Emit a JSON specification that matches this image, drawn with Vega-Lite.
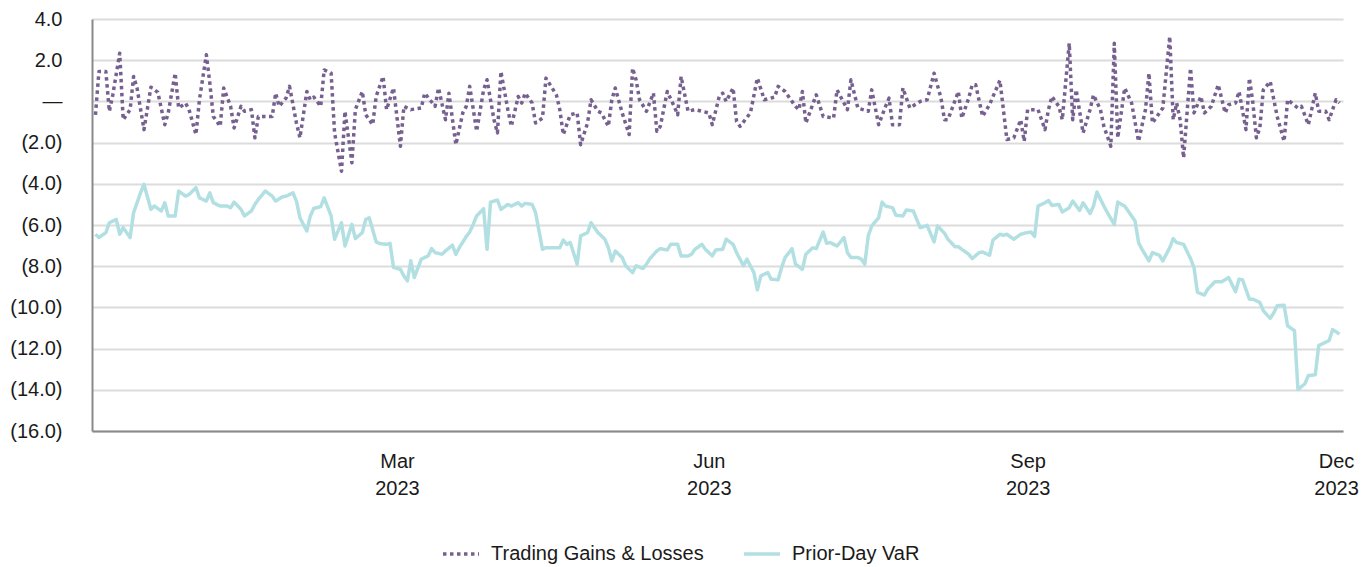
{
  "$schema": "https://vega.github.io/schema/vega-lite/v6.json",
  "width": 1251,
  "height": 412,
  "autosize": {"type": "none"},
  "padding": {"left": 92, "top": 19, "right": 29, "bottom": 136},
  "background": "white",
  "config": {
    "view": {"stroke": null},
    "font": "Liberation Sans"
  },
  "data": {
    "format": {"parse": {"d": "date:'%Y-%j'"}},
    "values": [
      {"s":"Trading Gains & Losses","d":"2023-003","v":-0.65},{"s":"Trading Gains & Losses","d":"2023-004","v":1.45},{"s":"Trading Gains & Losses","d":"2023-006","v":1.45},{"s":"Trading Gains & Losses","d":"2023-007","v":-0.48},{"s":"Trading Gains & Losses","d":"2023-008","v":0.32},{"s":"Trading Gains & Losses","d":"2023-010","v":2.34},{"s":"Trading Gains & Losses","d":"2023-011","v":-0.89},{"s":"Trading Gains & Losses","d":"2023-013","v":-0.4},{"s":"Trading Gains & Losses","d":"2023-014","v":1.21},{"s":"Trading Gains & Losses","d":"2023-015","v":0.65},{"s":"Trading Gains & Losses","d":"2023-017","v":-1.37},{"s":"Trading Gains & Losses","d":"2023-019","v":0.69},{"s":"Trading Gains & Losses","d":"2023-021","v":0.44},{"s":"Trading Gains & Losses","d":"2023-023","v":-1.13},{"s":"Trading Gains & Losses","d":"2023-024","v":-0.56},{"s":"Trading Gains & Losses","d":"2023-026","v":1.37},{"s":"Trading Gains & Losses","d":"2023-027","v":-0.32},{"s":"Trading Gains & Losses","d":"2023-029","v":-0.08},{"s":"Trading Gains & Losses","d":"2023-030","v":-0.4},{"s":"Trading Gains & Losses","d":"2023-032","v":-1.61},{"s":"Trading Gains & Losses","d":"2023-033","v":0.08},{"s":"Trading Gains & Losses","d":"2023-035","v":2.26},{"s":"Trading Gains & Losses","d":"2023-036","v":0.89},{"s":"Trading Gains & Losses","d":"2023-037","v":-0.73},{"s":"Trading Gains & Losses","d":"2023-039","v":-1.21},{"s":"Trading Gains & Losses","d":"2023-040","v":0.65},{"s":"Trading Gains & Losses","d":"2023-042","v":-0.24},{"s":"Trading Gains & Losses","d":"2023-043","v":-1.29},{"s":"Trading Gains & Losses","d":"2023-045","v":-0.24},{"s":"Trading Gains & Losses","d":"2023-046","v":-0.48},{"s":"Trading Gains & Losses","d":"2023-048","v":-0.4},{"s":"Trading Gains & Losses","d":"2023-049","v":-1.77},{"s":"Trading Gains & Losses","d":"2023-050","v":-0.73},{"s":"Trading Gains & Losses","d":"2023-052","v":-0.73},{"s":"Trading Gains & Losses","d":"2023-054","v":-0.73},{"s":"Trading Gains & Losses","d":"2023-055","v":0.4},{"s":"Trading Gains & Losses","d":"2023-056","v":-0.24},{"s":"Trading Gains & Losses","d":"2023-058","v":0.16},{"s":"Trading Gains & Losses","d":"2023-059","v":0.73},{"s":"Trading Gains & Losses","d":"2023-061","v":-1.05},{"s":"Trading Gains & Losses","d":"2023-062","v":-1.77},{"s":"Trading Gains & Losses","d":"2023-064","v":0.48},{"s":"Trading Gains & Losses","d":"2023-065","v":0.08},{"s":"Trading Gains & Losses","d":"2023-066","v":0.21},{"s":"Trading Gains & Losses","d":"2023-068","v":-0.24},{"s":"Trading Gains & Losses","d":"2023-069","v":1.53},{"s":"Trading Gains & Losses","d":"2023-071","v":1.37},{"s":"Trading Gains & Losses","d":"2023-072","v":-1.53},{"s":"Trading Gains & Losses","d":"2023-074","v":-3.39},{"s":"Trading Gains & Losses","d":"2023-075","v":-0.48},{"s":"Trading Gains & Losses","d":"2023-077","v":-2.98},{"s":"Trading Gains & Losses","d":"2023-078","v":-0.4},{"s":"Trading Gains & Losses","d":"2023-080","v":0.48},{"s":"Trading Gains & Losses","d":"2023-081","v":-0.65},{"s":"Trading Gains & Losses","d":"2023-083","v":-1.13},{"s":"Trading Gains & Losses","d":"2023-084","v":0.24},{"s":"Trading Gains & Losses","d":"2023-086","v":1.21},{"s":"Trading Gains & Losses","d":"2023-087","v":-0.4},{"s":"Trading Gains & Losses","d":"2023-089","v":0.65},{"s":"Trading Gains & Losses","d":"2023-091","v":-2.18},{"s":"Trading Gains & Losses","d":"2023-092","v":-0.24},{"s":"Trading Gains & Losses","d":"2023-094","v":-0.4},{"s":"Trading Gains & Losses","d":"2023-097","v":-0.32},{"s":"Trading Gains & Losses","d":"2023-098","v":0.4},{"s":"Trading Gains & Losses","d":"2023-101","v":-0.24},{"s":"Trading Gains & Losses","d":"2023-102","v":0.65},{"s":"Trading Gains & Losses","d":"2023-104","v":-0.89},{"s":"Trading Gains & Losses","d":"2023-105","v":0.4},{"s":"Trading Gains & Losses","d":"2023-107","v":-2.1},{"s":"Trading Gains & Losses","d":"2023-109","v":-0.56},{"s":"Trading Gains & Losses","d":"2023-110","v":-0.24},{"s":"Trading Gains & Losses","d":"2023-111","v":0.73},{"s":"Trading Gains & Losses","d":"2023-113","v":-1.45},{"s":"Trading Gains & Losses","d":"2023-115","v":0.56},{"s":"Trading Gains & Losses","d":"2023-116","v":1.05},{"s":"Trading Gains & Losses","d":"2023-118","v":-0.89},{"s":"Trading Gains & Losses","d":"2023-119","v":-1.53},{"s":"Trading Gains & Losses","d":"2023-120","v":1.45},{"s":"Trading Gains & Losses","d":"2023-122","v":-0.4},{"s":"Trading Gains & Losses","d":"2023-123","v":-1.21},{"s":"Trading Gains & Losses","d":"2023-125","v":0.24},{"s":"Trading Gains & Losses","d":"2023-126","v":-0.08},{"s":"Trading Gains & Losses","d":"2023-127","v":0.4},{"s":"Trading Gains & Losses","d":"2023-129","v":-0.08},{"s":"Trading Gains & Losses","d":"2023-130","v":-1.05},{"s":"Trading Gains & Losses","d":"2023-132","v":-0.81},{"s":"Trading Gains & Losses","d":"2023-133","v":1.13},{"s":"Trading Gains & Losses","d":"2023-136","v":0.32},{"s":"Trading Gains & Losses","d":"2023-137","v":-0.4},{"s":"Trading Gains & Losses","d":"2023-138","v":-1.61},{"s":"Trading Gains & Losses","d":"2023-140","v":-0.65},{"s":"Trading Gains & Losses","d":"2023-142","v":-0.56},{"s":"Trading Gains & Losses","d":"2023-143","v":-2.1},{"s":"Trading Gains & Losses","d":"2023-145","v":-1.05},{"s":"Trading Gains & Losses","d":"2023-146","v":0.08},{"s":"Trading Gains & Losses","d":"2023-148","v":-0.48},{"s":"Trading Gains & Losses","d":"2023-149","v":-0.56},{"s":"Trading Gains & Losses","d":"2023-151","v":-1.21},{"s":"Trading Gains & Losses","d":"2023-152","v":0.08},{"s":"Trading Gains & Losses","d":"2023-153","v":0.65},{"s":"Trading Gains & Losses","d":"2023-155","v":-0.56},{"s":"Trading Gains & Losses","d":"2023-157","v":-1.61},{"s":"Trading Gains & Losses","d":"2023-158","v":1.61},{"s":"Trading Gains & Losses","d":"2023-159","v":1.05},{"s":"Trading Gains & Losses","d":"2023-160","v":0.08},{"s":"Trading Gains & Losses","d":"2023-162","v":-0.48},{"s":"Trading Gains & Losses","d":"2023-164","v":0.4},{"s":"Trading Gains & Losses","d":"2023-165","v":-1.45},{"s":"Trading Gains & Losses","d":"2023-166","v":-1.21},{"s":"Trading Gains & Losses","d":"2023-168","v":0.48},{"s":"Trading Gains & Losses","d":"2023-170","v":-0.24},{"s":"Trading Gains & Losses","d":"2023-171","v":-0.65},{"s":"Trading Gains & Losses","d":"2023-172","v":1.21},{"s":"Trading Gains & Losses","d":"2023-174","v":-0.48},{"s":"Trading Gains & Losses","d":"2023-176","v":-0.4},{"s":"Trading Gains & Losses","d":"2023-180","v":-0.56},{"s":"Trading Gains & Losses","d":"2023-181","v":-1.13},{"s":"Trading Gains & Losses","d":"2023-183","v":0.24},{"s":"Trading Gains & Losses","d":"2023-184","v":0.4},{"s":"Trading Gains & Losses","d":"2023-185","v":0.0},{"s":"Trading Gains & Losses","d":"2023-187","v":0.65},{"s":"Trading Gains & Losses","d":"2023-188","v":-0.97},{"s":"Trading Gains & Losses","d":"2023-189","v":-1.21},{"s":"Trading Gains & Losses","d":"2023-192","v":-0.56},{"s":"Trading Gains & Losses","d":"2023-194","v":1.13},{"s":"Trading Gains & Losses","d":"2023-196","v":0.08},{"s":"Trading Gains & Losses","d":"2023-199","v":0.21},{"s":"Trading Gains & Losses","d":"2023-200","v":0.73},{"s":"Trading Gains & Losses","d":"2023-202","v":0.48},{"s":"Trading Gains & Losses","d":"2023-205","v":-0.24},{"s":"Trading Gains & Losses","d":"2023-206","v":-0.4},{"s":"Trading Gains & Losses","d":"2023-207","v":0.48},{"s":"Trading Gains & Losses","d":"2023-208","v":-1.05},{"s":"Trading Gains & Losses","d":"2023-211","v":0.32},{"s":"Trading Gains & Losses","d":"2023-213","v":-0.73},{"s":"Trading Gains & Losses","d":"2023-216","v":-0.81},{"s":"Trading Gains & Losses","d":"2023-217","v":0.56},{"s":"Trading Gains & Losses","d":"2023-220","v":-0.4},{"s":"Trading Gains & Losses","d":"2023-221","v":1.05},{"s":"Trading Gains & Losses","d":"2023-223","v":-0.32},{"s":"Trading Gains & Losses","d":"2023-226","v":-0.48},{"s":"Trading Gains & Losses","d":"2023-227","v":0.56},{"s":"Trading Gains & Losses","d":"2023-229","v":-1.13},{"s":"Trading Gains & Losses","d":"2023-231","v":-0.24},{"s":"Trading Gains & Losses","d":"2023-232","v":0.16},{"s":"Trading Gains & Losses","d":"2023-233","v":-1.13},{"s":"Trading Gains & Losses","d":"2023-235","v":-1.13},{"s":"Trading Gains & Losses","d":"2023-236","v":0.65},{"s":"Trading Gains & Losses","d":"2023-238","v":-0.32},{"s":"Trading Gains & Losses","d":"2023-241","v":0.0},{"s":"Trading Gains & Losses","d":"2023-243","v":0.08},{"s":"Trading Gains & Losses","d":"2023-245","v":1.37},{"s":"Trading Gains & Losses","d":"2023-247","v":0.16},{"s":"Trading Gains & Losses","d":"2023-248","v":-0.89},{"s":"Trading Gains & Losses","d":"2023-249","v":-0.89},{"s":"Trading Gains & Losses","d":"2023-252","v":0.48},{"s":"Trading Gains & Losses","d":"2023-253","v":-0.81},{"s":"Trading Gains & Losses","d":"2023-255","v":0.16},{"s":"Trading Gains & Losses","d":"2023-256","v":0.81},{"s":"Trading Gains & Losses","d":"2023-257","v":0.81},{"s":"Trading Gains & Losses","d":"2023-259","v":-0.73},{"s":"Trading Gains & Losses","d":"2023-261","v":-0.16},{"s":"Trading Gains & Losses","d":"2023-264","v":1.02},{"s":"Trading Gains & Losses","d":"2023-265","v":-0.4},{"s":"Trading Gains & Losses","d":"2023-266","v":-1.85},{"s":"Trading Gains & Losses","d":"2023-268","v":-1.77},{"s":"Trading Gains & Losses","d":"2023-270","v":-0.89},{"s":"Trading Gains & Losses","d":"2023-271","v":-1.94},{"s":"Trading Gains & Losses","d":"2023-272","v":-0.4},{"s":"Trading Gains & Losses","d":"2023-275","v":-0.4},{"s":"Trading Gains & Losses","d":"2023-277","v":-1.37},{"s":"Trading Gains & Losses","d":"2023-278","v":-0.4},{"s":"Trading Gains & Losses","d":"2023-279","v":0.24},{"s":"Trading Gains & Losses","d":"2023-281","v":-0.24},{"s":"Trading Gains & Losses","d":"2023-282","v":-0.89},{"s":"Trading Gains & Losses","d":"2023-284","v":2.82},{"s":"Trading Gains & Losses","d":"2023-285","v":-0.89},{"s":"Trading Gains & Losses","d":"2023-286","v":0.56},{"s":"Trading Gains & Losses","d":"2023-288","v":-1.53},{"s":"Trading Gains & Losses","d":"2023-290","v":-0.4},{"s":"Trading Gains & Losses","d":"2023-291","v":0.32},{"s":"Trading Gains & Losses","d":"2023-293","v":-0.4},{"s":"Trading Gains & Losses","d":"2023-294","v":-1.21},{"s":"Trading Gains & Losses","d":"2023-296","v":-2.18},{"s":"Trading Gains & Losses","d":"2023-297","v":2.82},{"s":"Trading Gains & Losses","d":"2023-298","v":-1.77},{"s":"Trading Gains & Losses","d":"2023-300","v":0.65},{"s":"Trading Gains & Losses","d":"2023-302","v":-0.08},{"s":"Trading Gains & Losses","d":"2023-304","v":-1.94},{"s":"Trading Gains & Losses","d":"2023-306","v":-0.4},{"s":"Trading Gains & Losses","d":"2023-307","v":1.37},{"s":"Trading Gains & Losses","d":"2023-308","v":-1.05},{"s":"Trading Gains & Losses","d":"2023-311","v":-0.32},{"s":"Trading Gains & Losses","d":"2023-313","v":3.15},{"s":"Trading Gains & Losses","d":"2023-314","v":-0.89},{"s":"Trading Gains & Losses","d":"2023-315","v":-0.08},{"s":"Trading Gains & Losses","d":"2023-316","v":-0.89},{"s":"Trading Gains & Losses","d":"2023-317","v":-2.74},{"s":"Trading Gains & Losses","d":"2023-319","v":1.61},{"s":"Trading Gains & Losses","d":"2023-320","v":-0.56},{"s":"Trading Gains & Losses","d":"2023-322","v":0.24},{"s":"Trading Gains & Losses","d":"2023-323","v":-0.56},{"s":"Trading Gains & Losses","d":"2023-325","v":-0.24},{"s":"Trading Gains & Losses","d":"2023-327","v":0.81},{"s":"Trading Gains & Losses","d":"2023-329","v":-0.56},{"s":"Trading Gains & Losses","d":"2023-330","v":-0.16},{"s":"Trading Gains & Losses","d":"2023-332","v":-0.08},{"s":"Trading Gains & Losses","d":"2023-333","v":0.48},{"s":"Trading Gains & Losses","d":"2023-335","v":-1.37},{"s":"Trading Gains & Losses","d":"2023-336","v":1.13},{"s":"Trading Gains & Losses","d":"2023-337","v":-0.08},{"s":"Trading Gains & Losses","d":"2023-338","v":-1.77},{"s":"Trading Gains & Losses","d":"2023-339","v":-1.29},{"s":"Trading Gains & Losses","d":"2023-340","v":0.56},{"s":"Trading Gains & Losses","d":"2023-342","v":0.97},{"s":"Trading Gains & Losses","d":"2023-344","v":-0.73},{"s":"Trading Gains & Losses","d":"2023-346","v":-1.94},{"s":"Trading Gains & Losses","d":"2023-347","v":0.08},{"s":"Trading Gains & Losses","d":"2023-350","v":-0.32},{"s":"Trading Gains & Losses","d":"2023-351","v":-0.24},{"s":"Trading Gains & Losses","d":"2023-353","v":-1.13},{"s":"Trading Gains & Losses","d":"2023-355","v":0.4},{"s":"Trading Gains & Losses","d":"2023-356","v":-0.48},{"s":"Trading Gains & Losses","d":"2023-358","v":-0.48},{"s":"Trading Gains & Losses","d":"2023-359","v":-0.89},{"s":"Trading Gains & Losses","d":"2023-361","v":0.08},{"s":"Trading Gains & Losses","d":"2023-362","v":-0.08},
      {"s":"Prior-Day VaR","d":"2023-003","v":-6.45},{"s":"Prior-Day VaR","d":"2023-004","v":-6.61},{"s":"Prior-Day VaR","d":"2023-006","v":-6.37},{"s":"Prior-Day VaR","d":"2023-007","v":-5.89},{"s":"Prior-Day VaR","d":"2023-009","v":-5.73},{"s":"Prior-Day VaR","d":"2023-010","v":-6.45},{"s":"Prior-Day VaR","d":"2023-011","v":-6.13},{"s":"Prior-Day VaR","d":"2023-013","v":-6.61},{"s":"Prior-Day VaR","d":"2023-014","v":-5.4},{"s":"Prior-Day VaR","d":"2023-016","v":-4.44},{"s":"Prior-Day VaR","d":"2023-017","v":-4.03},{"s":"Prior-Day VaR","d":"2023-019","v":-5.24},{"s":"Prior-Day VaR","d":"2023-020","v":-5.08},{"s":"Prior-Day VaR","d":"2023-022","v":-5.32},{"s":"Prior-Day VaR","d":"2023-023","v":-4.92},{"s":"Prior-Day VaR","d":"2023-024","v":-5.56},{"s":"Prior-Day VaR","d":"2023-026","v":-5.56},{"s":"Prior-Day VaR","d":"2023-027","v":-4.35},{"s":"Prior-Day VaR","d":"2023-029","v":-4.6},{"s":"Prior-Day VaR","d":"2023-030","v":-4.52},{"s":"Prior-Day VaR","d":"2023-032","v":-4.19},{"s":"Prior-Day VaR","d":"2023-033","v":-4.68},{"s":"Prior-Day VaR","d":"2023-035","v":-4.84},{"s":"Prior-Day VaR","d":"2023-036","v":-4.44},{"s":"Prior-Day VaR","d":"2023-037","v":-4.92},{"s":"Prior-Day VaR","d":"2023-039","v":-5.08},{"s":"Prior-Day VaR","d":"2023-041","v":-5.08},{"s":"Prior-Day VaR","d":"2023-042","v":-5.16},{"s":"Prior-Day VaR","d":"2023-043","v":-4.89},{"s":"Prior-Day VaR","d":"2023-045","v":-5.24},{"s":"Prior-Day VaR","d":"2023-046","v":-5.56},{"s":"Prior-Day VaR","d":"2023-048","v":-5.32},{"s":"Prior-Day VaR","d":"2023-049","v":-5.0},{"s":"Prior-Day VaR","d":"2023-050","v":-4.76},{"s":"Prior-Day VaR","d":"2023-052","v":-4.35},{"s":"Prior-Day VaR","d":"2023-054","v":-4.6},{"s":"Prior-Day VaR","d":"2023-055","v":-4.84},{"s":"Prior-Day VaR","d":"2023-057","v":-4.63},{"s":"Prior-Day VaR","d":"2023-058","v":-4.6},{"s":"Prior-Day VaR","d":"2023-060","v":-4.44},{"s":"Prior-Day VaR","d":"2023-061","v":-4.84},{"s":"Prior-Day VaR","d":"2023-062","v":-5.65},{"s":"Prior-Day VaR","d":"2023-064","v":-6.29},{"s":"Prior-Day VaR","d":"2023-065","v":-5.56},{"s":"Prior-Day VaR","d":"2023-066","v":-5.19},{"s":"Prior-Day VaR","d":"2023-068","v":-5.11},{"s":"Prior-Day VaR","d":"2023-069","v":-4.68},{"s":"Prior-Day VaR","d":"2023-071","v":-5.56},{"s":"Prior-Day VaR","d":"2023-072","v":-6.69},{"s":"Prior-Day VaR","d":"2023-074","v":-5.89},{"s":"Prior-Day VaR","d":"2023-075","v":-7.02},{"s":"Prior-Day VaR","d":"2023-077","v":-5.97},{"s":"Prior-Day VaR","d":"2023-078","v":-6.66},{"s":"Prior-Day VaR","d":"2023-080","v":-6.37},{"s":"Prior-Day VaR","d":"2023-081","v":-5.73},{"s":"Prior-Day VaR","d":"2023-082","v":-5.65},{"s":"Prior-Day VaR","d":"2023-084","v":-6.82},{"s":"Prior-Day VaR","d":"2023-085","v":-6.9},{"s":"Prior-Day VaR","d":"2023-087","v":-6.94},{"s":"Prior-Day VaR","d":"2023-088","v":-6.89},{"s":"Prior-Day VaR","d":"2023-089","v":-8.06},{"s":"Prior-Day VaR","d":"2023-091","v":-8.15},{"s":"Prior-Day VaR","d":"2023-092","v":-8.47},{"s":"Prior-Day VaR","d":"2023-093","v":-8.71},{"s":"Prior-Day VaR","d":"2023-094","v":-7.74},{"s":"Prior-Day VaR","d":"2023-095","v":-8.55},{"s":"Prior-Day VaR","d":"2023-097","v":-7.66},{"s":"Prior-Day VaR","d":"2023-099","v":-7.5},{"s":"Prior-Day VaR","d":"2023-100","v":-7.15},{"s":"Prior-Day VaR","d":"2023-101","v":-7.34},{"s":"Prior-Day VaR","d":"2023-103","v":-7.42},{"s":"Prior-Day VaR","d":"2023-104","v":-7.26},{"s":"Prior-Day VaR","d":"2023-106","v":-6.98},{"s":"Prior-Day VaR","d":"2023-107","v":-7.42},{"s":"Prior-Day VaR","d":"2023-108","v":-7.1},{"s":"Prior-Day VaR","d":"2023-110","v":-6.56},{"s":"Prior-Day VaR","d":"2023-111","v":-6.34},{"s":"Prior-Day VaR","d":"2023-112","v":-5.97},{"s":"Prior-Day VaR","d":"2023-113","v":-5.56},{"s":"Prior-Day VaR","d":"2023-115","v":-5.21},{"s":"Prior-Day VaR","d":"2023-116","v":-7.18},{"s":"Prior-Day VaR","d":"2023-117","v":-4.89},{"s":"Prior-Day VaR","d":"2023-119","v":-4.79},{"s":"Prior-Day VaR","d":"2023-120","v":-5.24},{"s":"Prior-Day VaR","d":"2023-122","v":-5.0},{"s":"Prior-Day VaR","d":"2023-123","v":-5.08},{"s":"Prior-Day VaR","d":"2023-125","v":-4.92},{"s":"Prior-Day VaR","d":"2023-126","v":-5.08},{"s":"Prior-Day VaR","d":"2023-127","v":-4.95},{"s":"Prior-Day VaR","d":"2023-129","v":-5.0},{"s":"Prior-Day VaR","d":"2023-130","v":-5.4},{"s":"Prior-Day VaR","d":"2023-132","v":-7.18},{"s":"Prior-Day VaR","d":"2023-133","v":-7.1},{"s":"Prior-Day VaR","d":"2023-135","v":-7.1},{"s":"Prior-Day VaR","d":"2023-137","v":-7.1},{"s":"Prior-Day VaR","d":"2023-138","v":-6.73},{"s":"Prior-Day VaR","d":"2023-139","v":-6.94},{"s":"Prior-Day VaR","d":"2023-140","v":-6.85},{"s":"Prior-Day VaR","d":"2023-142","v":-7.9},{"s":"Prior-Day VaR","d":"2023-143","v":-6.53},{"s":"Prior-Day VaR","d":"2023-145","v":-6.37},{"s":"Prior-Day VaR","d":"2023-146","v":-5.89},{"s":"Prior-Day VaR","d":"2023-148","v":-6.37},{"s":"Prior-Day VaR","d":"2023-150","v":-6.69},{"s":"Prior-Day VaR","d":"2023-151","v":-7.1},{"s":"Prior-Day VaR","d":"2023-152","v":-7.74},{"s":"Prior-Day VaR","d":"2023-153","v":-7.26},{"s":"Prior-Day VaR","d":"2023-155","v":-7.58},{"s":"Prior-Day VaR","d":"2023-156","v":-7.98},{"s":"Prior-Day VaR","d":"2023-158","v":-8.31},{"s":"Prior-Day VaR","d":"2023-159","v":-7.98},{"s":"Prior-Day VaR","d":"2023-161","v":-8.11},{"s":"Prior-Day VaR","d":"2023-162","v":-7.9},{"s":"Prior-Day VaR","d":"2023-163","v":-7.63},{"s":"Prior-Day VaR","d":"2023-165","v":-7.26},{"s":"Prior-Day VaR","d":"2023-166","v":-7.15},{"s":"Prior-Day VaR","d":"2023-168","v":-7.21},{"s":"Prior-Day VaR","d":"2023-169","v":-6.94},{"s":"Prior-Day VaR","d":"2023-171","v":-6.94},{"s":"Prior-Day VaR","d":"2023-172","v":-7.5},{"s":"Prior-Day VaR","d":"2023-174","v":-7.5},{"s":"Prior-Day VaR","d":"2023-175","v":-7.42},{"s":"Prior-Day VaR","d":"2023-176","v":-7.18},{"s":"Prior-Day VaR","d":"2023-178","v":-6.94},{"s":"Prior-Day VaR","d":"2023-179","v":-7.18},{"s":"Prior-Day VaR","d":"2023-181","v":-7.5},{"s":"Prior-Day VaR","d":"2023-182","v":-7.21},{"s":"Prior-Day VaR","d":"2023-184","v":-7.18},{"s":"Prior-Day VaR","d":"2023-185","v":-6.69},{"s":"Prior-Day VaR","d":"2023-187","v":-6.94},{"s":"Prior-Day VaR","d":"2023-188","v":-7.34},{"s":"Prior-Day VaR","d":"2023-190","v":-7.98},{"s":"Prior-Day VaR","d":"2023-191","v":-7.66},{"s":"Prior-Day VaR","d":"2023-193","v":-8.31},{"s":"Prior-Day VaR","d":"2023-194","v":-9.15},{"s":"Prior-Day VaR","d":"2023-195","v":-8.47},{"s":"Prior-Day VaR","d":"2023-197","v":-8.31},{"s":"Prior-Day VaR","d":"2023-198","v":-8.63},{"s":"Prior-Day VaR","d":"2023-200","v":-8.66},{"s":"Prior-Day VaR","d":"2023-201","v":-8.06},{"s":"Prior-Day VaR","d":"2023-202","v":-7.58},{"s":"Prior-Day VaR","d":"2023-204","v":-7.15},{"s":"Prior-Day VaR","d":"2023-205","v":-7.9},{"s":"Prior-Day VaR","d":"2023-207","v":-8.15},{"s":"Prior-Day VaR","d":"2023-208","v":-7.42},{"s":"Prior-Day VaR","d":"2023-210","v":-7.1},{"s":"Prior-Day VaR","d":"2023-211","v":-7.15},{"s":"Prior-Day VaR","d":"2023-213","v":-6.34},{"s":"Prior-Day VaR","d":"2023-214","v":-6.89},{"s":"Prior-Day VaR","d":"2023-215","v":-6.85},{"s":"Prior-Day VaR","d":"2023-217","v":-7.02},{"s":"Prior-Day VaR","d":"2023-219","v":-6.61},{"s":"Prior-Day VaR","d":"2023-220","v":-7.34},{"s":"Prior-Day VaR","d":"2023-221","v":-7.58},{"s":"Prior-Day VaR","d":"2023-223","v":-7.58},{"s":"Prior-Day VaR","d":"2023-224","v":-7.66},{"s":"Prior-Day VaR","d":"2023-225","v":-7.9},{"s":"Prior-Day VaR","d":"2023-226","v":-6.53},{"s":"Prior-Day VaR","d":"2023-227","v":-6.05},{"s":"Prior-Day VaR","d":"2023-229","v":-5.65},{"s":"Prior-Day VaR","d":"2023-230","v":-4.89},{"s":"Prior-Day VaR","d":"2023-231","v":-5.08},{"s":"Prior-Day VaR","d":"2023-233","v":-5.16},{"s":"Prior-Day VaR","d":"2023-234","v":-5.53},{"s":"Prior-Day VaR","d":"2023-236","v":-5.56},{"s":"Prior-Day VaR","d":"2023-237","v":-5.27},{"s":"Prior-Day VaR","d":"2023-239","v":-5.32},{"s":"Prior-Day VaR","d":"2023-240","v":-5.73},{"s":"Prior-Day VaR","d":"2023-241","v":-6.13},{"s":"Prior-Day VaR","d":"2023-243","v":-6.02},{"s":"Prior-Day VaR","d":"2023-245","v":-6.82},{"s":"Prior-Day VaR","d":"2023-246","v":-6.05},{"s":"Prior-Day VaR","d":"2023-248","v":-6.4},{"s":"Prior-Day VaR","d":"2023-249","v":-6.69},{"s":"Prior-Day VaR","d":"2023-251","v":-7.05},{"s":"Prior-Day VaR","d":"2023-252","v":-7.05},{"s":"Prior-Day VaR","d":"2023-253","v":-7.18},{"s":"Prior-Day VaR","d":"2023-255","v":-7.42},{"s":"Prior-Day VaR","d":"2023-256","v":-7.63},{"s":"Prior-Day VaR","d":"2023-258","v":-7.34},{"s":"Prior-Day VaR","d":"2023-259","v":-7.31},{"s":"Prior-Day VaR","d":"2023-261","v":-7.47},{"s":"Prior-Day VaR","d":"2023-262","v":-6.73},{"s":"Prior-Day VaR","d":"2023-264","v":-6.45},{"s":"Prior-Day VaR","d":"2023-265","v":-6.5},{"s":"Prior-Day VaR","d":"2023-266","v":-6.45},{"s":"Prior-Day VaR","d":"2023-268","v":-6.69},{"s":"Prior-Day VaR","d":"2023-270","v":-6.45},{"s":"Prior-Day VaR","d":"2023-271","v":-6.4},{"s":"Prior-Day VaR","d":"2023-273","v":-6.34},{"s":"Prior-Day VaR","d":"2023-274","v":-6.56},{"s":"Prior-Day VaR","d":"2023-275","v":-5.08},{"s":"Prior-Day VaR","d":"2023-277","v":-4.92},{"s":"Prior-Day VaR","d":"2023-278","v":-4.81},{"s":"Prior-Day VaR","d":"2023-279","v":-5.05},{"s":"Prior-Day VaR","d":"2023-281","v":-5.0},{"s":"Prior-Day VaR","d":"2023-282","v":-5.37},{"s":"Prior-Day VaR","d":"2023-284","v":-5.16},{"s":"Prior-Day VaR","d":"2023-285","v":-4.84},{"s":"Prior-Day VaR","d":"2023-287","v":-5.29},{"s":"Prior-Day VaR","d":"2023-288","v":-4.92},{"s":"Prior-Day VaR","d":"2023-290","v":-5.44},{"s":"Prior-Day VaR","d":"2023-291","v":-5.08},{"s":"Prior-Day VaR","d":"2023-292","v":-4.4},{"s":"Prior-Day VaR","d":"2023-294","v":-5.08},{"s":"Prior-Day VaR","d":"2023-295","v":-5.4},{"s":"Prior-Day VaR","d":"2023-297","v":-5.97},{"s":"Prior-Day VaR","d":"2023-298","v":-4.89},{"s":"Prior-Day VaR","d":"2023-300","v":-5.08},{"s":"Prior-Day VaR","d":"2023-301","v":-5.32},{"s":"Prior-Day VaR","d":"2023-303","v":-5.81},{"s":"Prior-Day VaR","d":"2023-304","v":-6.85},{"s":"Prior-Day VaR","d":"2023-305","v":-7.18},{"s":"Prior-Day VaR","d":"2023-307","v":-7.74},{"s":"Prior-Day VaR","d":"2023-308","v":-7.34},{"s":"Prior-Day VaR","d":"2023-310","v":-7.47},{"s":"Prior-Day VaR","d":"2023-311","v":-7.74},{"s":"Prior-Day VaR","d":"2023-313","v":-7.1},{"s":"Prior-Day VaR","d":"2023-314","v":-6.66},{"s":"Prior-Day VaR","d":"2023-315","v":-6.85},{"s":"Prior-Day VaR","d":"2023-317","v":-6.94},{"s":"Prior-Day VaR","d":"2023-319","v":-7.63},{"s":"Prior-Day VaR","d":"2023-320","v":-8.06},{"s":"Prior-Day VaR","d":"2023-321","v":-9.27},{"s":"Prior-Day VaR","d":"2023-323","v":-9.4},{"s":"Prior-Day VaR","d":"2023-324","v":-9.11},{"s":"Prior-Day VaR","d":"2023-326","v":-8.76},{"s":"Prior-Day VaR","d":"2023-327","v":-8.76},{"s":"Prior-Day VaR","d":"2023-328","v":-8.76},{"s":"Prior-Day VaR","d":"2023-330","v":-8.55},{"s":"Prior-Day VaR","d":"2023-332","v":-9.24},{"s":"Prior-Day VaR","d":"2023-333","v":-8.63},{"s":"Prior-Day VaR","d":"2023-334","v":-8.66},{"s":"Prior-Day VaR","d":"2023-336","v":-9.6},{"s":"Prior-Day VaR","d":"2023-337","v":-9.6},{"s":"Prior-Day VaR","d":"2023-339","v":-9.76},{"s":"Prior-Day VaR","d":"2023-340","v":-10.16},{"s":"Prior-Day VaR","d":"2023-342","v":-10.53},{"s":"Prior-Day VaR","d":"2023-343","v":-10.27},{"s":"Prior-Day VaR","d":"2023-344","v":-9.92},{"s":"Prior-Day VaR","d":"2023-346","v":-9.89},{"s":"Prior-Day VaR","d":"2023-347","v":-10.89},{"s":"Prior-Day VaR","d":"2023-349","v":-11.13},{"s":"Prior-Day VaR","d":"2023-350","v":-13.98},{"s":"Prior-Day VaR","d":"2023-352","v":-13.71},{"s":"Prior-Day VaR","d":"2023-353","v":-13.31},{"s":"Prior-Day VaR","d":"2023-355","v":-13.27},{"s":"Prior-Day VaR","d":"2023-356","v":-11.85},{"s":"Prior-Day VaR","d":"2023-357","v":-11.77},{"s":"Prior-Day VaR","d":"2023-359","v":-11.61},{"s":"Prior-Day VaR","d":"2023-360","v":-11.08},{"s":"Prior-Day VaR","d":"2023-362","v":-11.29}
    ]
  },
  "mark": {"type": "line", "strokeWidth": 3.5, "strokeCap": "butt", "strokeJoin": "round"},
  "encoding": {
    "x": {
      "field": "d",
      "type": "temporal",
      "scale": {"domain": [{"year": 2023, "month": 1, "date": 2}, {"year": 2023, "month": 12, "date": 29}]},
      "axis": {
        "title": null,
        "values": [{"year": 2023, "month": 3, "date": 31}, {"year": 2023, "month": 6, "date": 29}, {"year": 2023, "month": 9, "date": 29}, {"year": 2023, "month": 12, "date": 27}],
        "labelExpr": "[timeFormat(datum.value, '%b'), timeFormat(datum.value, '%Y')]",
        "grid": false,
        "ticks": false,
        "domainColor": "#8a8a8a",
        "domainWidth": 2,
        "labelFont": "Liberation Sans",
        "labelFontSize": 20,
        "labelColor": "#1a1a1a",
        "labelPadding": 20,
        "labelLineHeight": 27,
        "labelFlush": false,
        "labelOverlap": false,
        "labelBound": false
      }
    },
    "y": {
      "field": "v",
      "type": "quantitative",
      "scale": {"domain": [-16, 4], "nice": false, "zero": false},
      "axis": {
        "title": null,
        "values": [-16, -14, -12, -10, -8, -6, -4, -2, 0, 2, 4],
        "labelExpr": "datum.value == 0 ? '—' : (datum.value < 0 ? '(' + format(-datum.value, '.1f') + ')' : format(datum.value, '.1f'))",
        "grid": true,
        "gridColor": "#dcdcdc",
        "gridWidth": 2,
        "ticks": false,
        "domainColor": "#8a8a8a",
        "domainWidth": 2,
        "labelFont": "Liberation Sans",
        "labelFontSize": 20,
        "labelColor": "#1a1a1a",
        "labelPadding": 30
      }
    },
    "color": {
      "field": "s",
      "type": "nominal",
      "scale": {"domain": ["Trading Gains & Losses", "Prior-Day VaR"], "range": ["#76608f", "#b2e0e2"]},
      "legend": {
        "title": null,
        "orient": "none",
        "legendX": 349,
        "legendY": 515,
        "direction": "horizontal",
        "symbolType": "stroke",
        "symbolSize": 1300,
        "symbolStrokeWidth": 3.5,
        "labelFont": "Liberation Sans",
        "labelFontSize": 20,
        "labelColor": "#1a1a1a",
        "labelOffset": 10,
        "columnPadding": 32,
        "padding": 0,
        "labelLimit": 400
      }
    },
    "strokeDash": {
      "field": "s",
      "type": "nominal",
      "scale": {"domain": ["Trading Gains & Losses", "Prior-Day VaR"], "range": [[3.5, 3.5], [1, 0]]},
      "legend": {
        "title": null,
        "orient": "none",
        "legendX": 349,
        "legendY": 515,
        "direction": "horizontal",
        "symbolType": "stroke",
        "symbolSize": 1300,
        "symbolStrokeWidth": 3.5,
        "labelFont": "Liberation Sans",
        "labelFontSize": 20,
        "labelColor": "#1a1a1a",
        "labelOffset": 10,
        "columnPadding": 32,
        "padding": 0,
        "labelLimit": 400
      }
    }
  }
}
